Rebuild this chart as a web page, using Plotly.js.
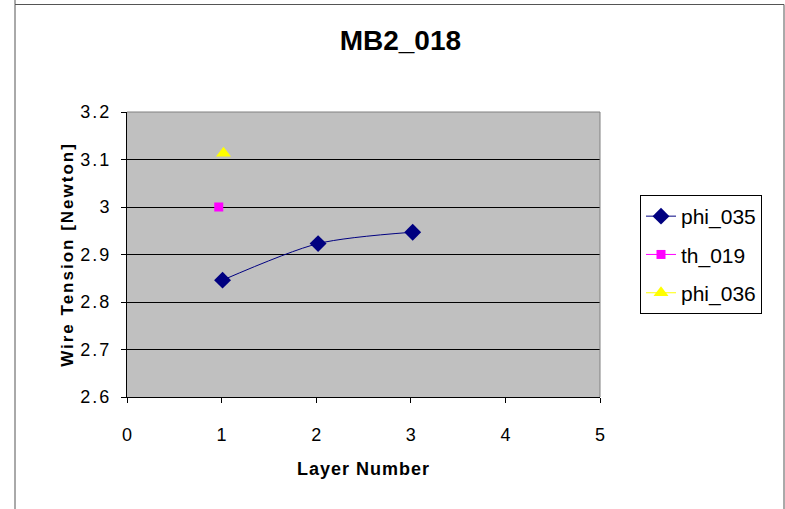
<!DOCTYPE html>
<html>
<head>
<meta charset="utf-8">
<script src="https://cdn.plot.ly/plotly-3.0.1.min.js"></script>
<style>
html,body{margin:0;padding:0;background:#fff;}
#chart{width:785px;height:509px;}
#chart .xtitle{letter-spacing:1px;}
#chart .ytitle{letter-spacing:2px;}
#chart .ytick text{letter-spacing:2px;}
</style>
</head>
<body>
<div id="chart"></div>
<script>
const phi035X = [1.01, 2.02, 3.02];
const phi035Y = [2.846, 2.923, 2.947];
const th019X = [0.97];
const th019Y = [3.0];
const phi036X = [1.02];
const phi036Y = [3.113];
const xTicks = [0, 1, 2, 3, 4, 5];
const yTicks = [2.6, 2.7, 2.8, 2.9, 3.0, 3.1, 3.2];
const yTickText = ['2.6', '2.7', '2.8', '2.9', '3', '3.1', '3.2'];

const FONT = 'Liberation Sans, Arial, sans-serif';

const traces = [
  {
    x: phi035X, y: phi035Y, name: 'phi_035', mode: 'lines+markers',
    line: {color: '#000080', width: 1, shape: 'spline', smoothing: 0.8},
    marker: {symbol: 'diamond', size: 13, color: '#000080'},
    legendgroup: 'a'
  },
  {
    x: th019X, y: th019Y, name: 'th_019', mode: 'lines+markers',
    line: {color: '#ff00ff', width: 1},
    marker: {symbol: 'square', size: 9, color: '#ff00ff'},
    legendgroup: 'b'
  },
  {
    x: phi036X, y: phi036Y, name: 'phi_036', mode: 'lines+markers',
    line: {color: '#ffff00', width: 1},
    marker: {symbol: 'triangle-up', size: 13, color: '#ffff00'},
    legendgroup: 'c'
  }
];

const layout = {
  width: 785, height: 509,
  margin: {l: 127, r: 185, t: 112, b: 112, autoexpand: false},
  paper_bgcolor: '#ffffff',
  plot_bgcolor: '#c0c0c0',
  font: {family: FONT, size: 18, color: '#000'},
  title: {
    text: '<b>MB2_018</b>', font: {family: FONT, size: 28, color: '#000'},
    xref: 'container', yref: 'container', x: 0.51, y: 1 - 40/509,
    xanchor: 'center', yanchor: 'middle'
  },
  xaxis: {
    range: [0, 5], tickvals: xTicks, ticktext: xTicks.map(String),
    showgrid: false, zeroline: false,
    showline: true, linecolor: '#000', linewidth: 1,
    ticks: 'outside', ticklen: 5, tickcolor: '#000',
    ticklabelstandoff: 16,
    tickfont: {family: FONT, size: 18},
    title: {text: '<b>Layer Number</b>', font: {family: FONT, size: 18}, standoff: 18}
  },
  yaxis: {
    range: [2.6, 3.2], tickvals: yTicks, ticktext: yTickText,
    showgrid: true, gridcolor: '#000', gridwidth: 1, zeroline: false,
    showline: true, linecolor: '#000', linewidth: 1,
    ticks: 'outside', ticklen: 5, tickcolor: '#000',
    ticklabelstandoff: 6,
    tickfont: {family: FONT, size: 18},
    title: {text: '<b>Wire Tension [Newton]</b>', font: {family: FONT, size: 17}, standoff: 8}
  },
  showlegend: true,
  legend: {
    x: (640 - 127) / 473, y: (397 - 195) / 285, xanchor: 'left', yanchor: 'top',
    bgcolor: '#ffffff', bordercolor: '#000', borderwidth: 1,
    font: {family: FONT, size: 21, color: '#000'},
    traceorder: 'grouped', tracegroupgap: 8
  },
  shapes: [
    {type: 'line', xref: 'paper', yref: 'paper', x0: 0, x1: 1, y0: 1, y1: 1, line: {color: '#808080', width: 1}},
    {type: 'line', xref: 'paper', yref: 'paper', x0: 1, x1: 1, y0: 0, y1: 1, line: {color: '#808080', width: 1}},
    {type: 'rect', xref: 'paper', yref: 'paper',
     x0: (15 - 127) / 473, x1: (784 - 127) / 473, y0: (397 - 520) / 285, y1: (397 - 4.5) / 285,
     line: {color: '#555', width: 1}, layer: 'below'},
    {type: 'line', xref: 'paper', yref: 'paper',
     x0: (15 - 127) / 473, x1: (15 - 127) / 473, y0: (397 - 4.5) / 285, y1: (397 + 10) / 285,
     line: {color: '#555', width: 1}}
  ]
};

Plotly.newPlot('chart', traces, layout, {displayModeBar: false, staticPlot: true});
</script>
</body>
</html>
